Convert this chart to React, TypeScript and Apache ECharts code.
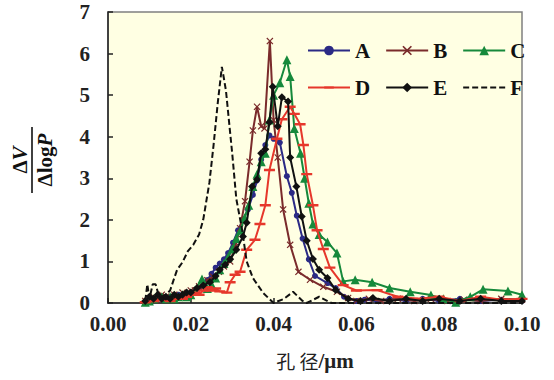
import React, { useEffect, useRef } from "react";
import * as echarts from "echarts";

const xTicks = [0, 0.02, 0.04, 0.06, 0.08, 0.1];
const yTicks = [0, 1, 2, 3, 4, 5, 6, 7];
const seriesNames = ["A", "B", "C", "D", "E", "F"];

const dataA: number[][] = [
  [0.009, 0.02], [0.010, 0.08], [0.011, 0.12], [0.012, 0.1], [0.013, 0.15], [0.014, 0.1], [0.015, 0.15],
  [0.016, 0.12], [0.017, 0.2], [0.018, 0.15], [0.019, 0.2], [0.020, 0.25], [0.021, 0.3], [0.022, 0.35],
  [0.023, 0.45], [0.024, 0.55], [0.025, 0.7], [0.026, 0.85], [0.027, 0.95], [0.028, 1.05], [0.029, 1.2],
  [0.0302, 1.45], [0.0314, 1.75], [0.0326, 2.0], [0.0338, 2.25], [0.035, 2.6], [0.036, 2.95], [0.037, 3.45],
  [0.038, 3.8], [0.039, 4.03], [0.040, 3.95], [0.0415, 3.86], [0.0432, 3.05], [0.0444, 2.65], [0.0456, 2.1],
  [0.047, 1.55], [0.0485, 1.05], [0.050, 0.65], [0.053, 0.48], [0.055, 0.36], [0.057, 0.15], [0.06, 0.05],
  [0.062, 0.08], [0.065, 0.05], [0.068, 0.1], [0.072, 0.05], [0.076, 0.1], [0.08, 0.05], [0.085, 0.1],
  [0.09, 0.05], [0.095, 0.08], [0.1, 0.05],
];

const dataB: number[][] = [
  [0.009, 0.05], [0.010, 0.1], [0.011, 0.15], [0.012, 0.1], [0.013, 0.2], [0.014, 0.15], [0.015, 0.1],
  [0.016, 0.2], [0.017, 0.15], [0.018, 0.25], [0.019, 0.2], [0.020, 0.3], [0.021, 0.3], [0.022, 0.4],
  [0.023, 0.45], [0.024, 0.55], [0.0254, 0.63], [0.0268, 0.75], [0.028, 0.88], [0.0295, 1.0], [0.0307, 1.35],
  [0.0319, 1.8], [0.0331, 2.45], [0.0342, 3.4], [0.035, 4.15], [0.036, 4.72], [0.037, 4.25], [0.0378, 4.2],
  [0.0391, 6.3], [0.040, 4.4], [0.041, 3.5], [0.0423, 2.25], [0.044, 1.4], [0.046, 0.75], [0.0488, 0.56],
  [0.052, 0.39], [0.0553, 0.27], [0.058, 0.12], [0.06, 0.05], [0.063, 0.1], [0.066, 0.05], [0.07, 0.1],
  [0.074, 0.05], [0.078, 0.1], [0.082, 0.05], [0.086, 0.08], [0.09, 0.05], [0.095, 0.1], [0.1, 0.08],
];

const dataC: number[][] = [
  [0.009, 0.02], [0.010, 0.05], [0.011, 0.1], [0.012, 0.2], [0.013, 0.15], [0.014, 0.1], [0.015, 0.15],
  [0.016, 0.1], [0.017, 0.15], [0.018, 0.2], [0.019, 0.15], [0.020, 0.2], [0.021, 0.3], [0.0227, 0.58],
  [0.024, 0.35], [0.025, 0.45], [0.026, 0.6], [0.027, 0.8], [0.028, 0.95], [0.029, 1.1], [0.030, 1.3],
  [0.031, 1.55], [0.032, 1.75], [0.033, 2.05], [0.034, 2.35], [0.035, 2.8], [0.036, 3.1], [0.037, 3.4],
  [0.038, 3.6], [0.039, 4.4], [0.040, 5.0], [0.0415, 5.3], [0.0432, 5.85], [0.044, 5.45], [0.045, 4.2],
  [0.0465, 3.6], [0.0475, 3.0], [0.0485, 2.4], [0.0495, 1.9], [0.051, 1.65], [0.053, 1.47], [0.0553, 1.2],
  [0.0568, 0.52], [0.0597, 0.56], [0.0638, 0.5], [0.068, 0.36], [0.073, 0.27], [0.078, 0.19], [0.081, 0.1],
  [0.084, 0.02], [0.0875, 0.15], [0.0906, 0.33], [0.0966, 0.29], [0.1, 0.2],
];

const dataD: number[][] = [
  [0.009, 0.02], [0.010, 0.05], [0.011, 0.05], [0.012, 0.1], [0.013, 0.08], [0.014, 0.1], [0.015, 0.05],
  [0.016, 0.1], [0.017, 0.12], [0.018, 0.1], [0.019, 0.15], [0.020, 0.2], [0.021, 0.25], [0.022, 0.2],
  [0.023, 0.3], [0.024, 0.38], [0.025, 0.3], [0.026, 0.35], [0.027, 0.28], [0.0287, 0.25], [0.0295, 0.5],
  [0.0307, 0.68], [0.0319, 0.75], [0.0335, 1.28], [0.0355, 1.52], [0.0367, 1.9], [0.038, 2.35], [0.039, 3.2],
  [0.0408, 3.95], [0.042, 4.42], [0.044, 4.72], [0.045, 4.55], [0.0464, 4.3], [0.0472, 3.8], [0.048, 3.1],
  [0.0495, 2.35], [0.0505, 1.75], [0.052, 1.3], [0.0536, 0.85], [0.0568, 0.43], [0.06, 0.3], [0.065, 0.31],
  [0.07, 0.15], [0.075, 0.1], [0.08, 0.15], [0.085, 0.05], [0.09, 0.15], [0.095, 0.08], [0.1, 0.1],
];

const dataE: number[][] = [
  [0.009, 0.05], [0.010, 0.15], [0.011, 0.1], [0.012, 0.2], [0.013, 0.1], [0.014, 0.15], [0.015, 0.1],
  [0.016, 0.2], [0.017, 0.15], [0.018, 0.2], [0.019, 0.25], [0.020, 0.25], [0.0215, 0.36], [0.023, 0.42],
  [0.0246, 0.5], [0.026, 0.65], [0.027, 0.8], [0.0283, 0.92], [0.0295, 1.05], [0.031, 1.28], [0.0326, 1.6],
  [0.0335, 1.93], [0.0348, 2.8], [0.036, 2.97], [0.037, 3.6], [0.038, 3.7], [0.039, 4.35], [0.0398, 5.2],
  [0.041, 4.25], [0.042, 4.95], [0.0435, 4.85], [0.044, 3.5], [0.0455, 2.8], [0.0468, 2.08], [0.048, 1.5],
  [0.0495, 1.06], [0.051, 0.8], [0.053, 0.6], [0.055, 0.31], [0.058, 0.1], [0.061, 0.05], [0.064, 0.12],
  [0.068, 0.05], [0.072, 0.1], [0.076, 0.05], [0.08, 0.1], [0.085, 0.05], [0.09, 0.1], [0.095, 0.05],
  [0.1, 0.05],
];

const dataF: number[][] = [
  [0.009, 0.05], [0.0095, 0.45], [0.010, 0.1], [0.0108, 0.45], [0.0115, 0.45], [0.0122, 0.2], [0.013, 0.15],
  [0.014, 0.2], [0.015, 0.3], [0.016, 0.6], [0.0167, 0.8], [0.018, 0.98], [0.0193, 1.25], [0.0206, 1.4],
  [0.022, 1.65], [0.023, 2.0], [0.0245, 2.9], [0.0255, 3.8], [0.0265, 4.8], [0.0275, 5.68], [0.028, 5.4],
  [0.0285, 5.1], [0.029, 4.6], [0.030, 3.6], [0.031, 2.5], [0.0324, 1.76], [0.0335, 1.0], [0.035, 0.6],
  [0.0375, 0.24], [0.040, 0.0], [0.0425, 0.1], [0.0447, 0.27], [0.047, 0.05], [0.048, 0.0], [0.051, 0.15],
  [0.054, 0.0], [0.06, 0.0], [0.07, 0.0], [0.08, 0.0], [0.09, 0.0], [0.1, 0.0],
];

const colors = ["#2b2a85", "#7a2b2b", "#16893b", "#e6372b", "#111111", "#111111"];
const xMark =
  "path://M0,1.2 L1.2,0 L5,3.8 L8.8,0 L10,1.2 L6.2,5 L10,8.8 L8.8,10 L5,6.2 L1.2,10 L0,8.8 L3.8,5 Z";
const dashMark =
  "path://M0,0 L0.01,0 L0,0.01 Z M0,10 L0.01,10 L0,9.99 Z M0,3.9 L10,3.9 L10,6.1 L0,6.1 Z";

const serif = "'Liberation Serif', 'Times New Roman', serif";

export default function App() {
  const ref = useRef<HTMLDivElement>(null);
  useEffect(() => {
    if (!ref.current) return;
    const chart = echarts.init(ref.current, undefined, { renderer: "svg" });
    const datas = [dataA, dataB, dataC, dataD, dataE, dataF];
    const symbols: any[] = ["circle", xMark, "triangle", dashMark, "diamond", "none"];
    const sizes: any[] = [6, 7, 9, 11, 8, 0];
    const series = seriesNames.map((name, i) => ({
      name,
      type: "line",
      data: datas[i],
      symbol: symbols[i],
      symbolSize: sizes[i],
      showSymbol: i !== 5,
      smooth: false,
      lineStyle: {
        color: colors[i],
        width: 2,
        type: i === 5 ? [6, 3] : "solid",
      },
      itemStyle: { color: colors[i], borderWidth: 0 },
      z: 2 + i,
    }));
    const legendText = { fontFamily: serif, fontWeight: "bold", fontSize: 21, color: "#111" };
    chart.setOption({
      animation: false,
      backgroundColor: "#ffffff",
      grid: {
        left: 108,
        right: 32,
        top: 12,
        bottom: 77,
        show: true,
        backgroundColor: "#ffffe3",
        borderColor: "#808080",
        borderWidth: 1.5,
        containLabel: false,
        outerBoundsMode: "none",
      },
      legend: [
        {
          data: ["A", "B", "C"],
          left: 302,
          top: 35,
          itemWidth: 42,
          itemHeight: 12,
          itemGap: 15,
          textStyle: legendText,
        },
        {
          data: ["D", "E", { name: "F", itemStyle: { color: "rgba(0,0,0,0)", borderWidth: 0 } }],
          left: 302,
          top: 72,
          itemWidth: 42,
          itemHeight: 12,
          itemGap: 15,
          textStyle: legendText,
        },
      ],
      xAxis: {
        type: "value",
        min: 0,
        max: 0.1,
        interval: 0.02,
        name: "{c|孔 径}{u|/μm}",
        nameLocation: "middle",
        nameGap: 47,
        nameTextStyle: {
          rich: {
            c: { fontFamily: "'Noto Sans CJK SC'", fontSize: 19, color: "#222" },
            u: { fontFamily: serif, fontSize: 21, fontWeight: "bold", color: "#222" },
          },
        },
        axisLine: { onZero: false, lineStyle: { color: "#222", width: 1.5 } },
        axisTick: { inside: true, length: 5, lineStyle: { color: "#222", width: 1.5 } },
        axisLabel: {
          formatter: (v: number) => v.toFixed(2),
          fontFamily: serif,
          fontWeight: "bold",
          fontSize: 21,
          color: "#222",
          margin: 10,
        },
        splitLine: { show: false },
      },
      yAxis: {
        type: "value",
        min: 0,
        max: 7,
        interval: 1,
        axisLine: { show: true, onZero: false, lineStyle: { color: "#222", width: 1.5 } },
        axisTick: { show: true, inside: true, length: 5, lineStyle: { color: "#222", width: 1.5 } },
        axisLabel: {
          fontFamily: serif,
          fontWeight: "bold",
          fontSize: 21,
          color: "#222",
          margin: 18,
          formatter: (v: number) => String(v),
        },
        splitLine: { show: false },
      },
      graphic: [
        {
          type: "group",
          x: 32,
          y: 160,
          rotation: Math.PI / 2,
          children: [
            {
              type: "text",
              x: 0,
              y: -2,
              style: {
                text: "{a|Δ}{b|V}",
                align: "center",
                verticalAlign: "bottom",
                rich: {
                  a: { fontFamily: serif, fontSize: 21, fontWeight: "bold", fill: "#111" },
                  b: { fontFamily: serif, fontSize: 21, fontWeight: "bold", fontStyle: "italic", fill: "#111" },
                },
              },
            },
            {
              type: "line",
              shape: { x1: -33, y1: 0, x2: 33, y2: 0 },
              style: { stroke: "#111", lineWidth: 1.6 },
            },
            {
              type: "text",
              x: 0,
              y: 2,
              style: {
                text: "{a|Δ}{c|log}{b|P}",
                align: "center",
                verticalAlign: "top",
                rich: {
                  a: { fontFamily: serif, fontSize: 21, fontWeight: "bold", fill: "#111" },
                  c: { fontFamily: serif, fontSize: 21, fontWeight: "bold", fill: "#111" },
                  b: { fontFamily: serif, fontSize: 21, fontWeight: "bold", fontStyle: "italic", fill: "#111" },
                },
              },
            },
          ],
        },
      ],
      series,
    });
    return () => chart.dispose();
  }, []);
  return (
    <div
      ref={ref}
      style={{ position: "fixed", left: 0, top: 0, width: 554, height: 380 }}
    />
  );
}
